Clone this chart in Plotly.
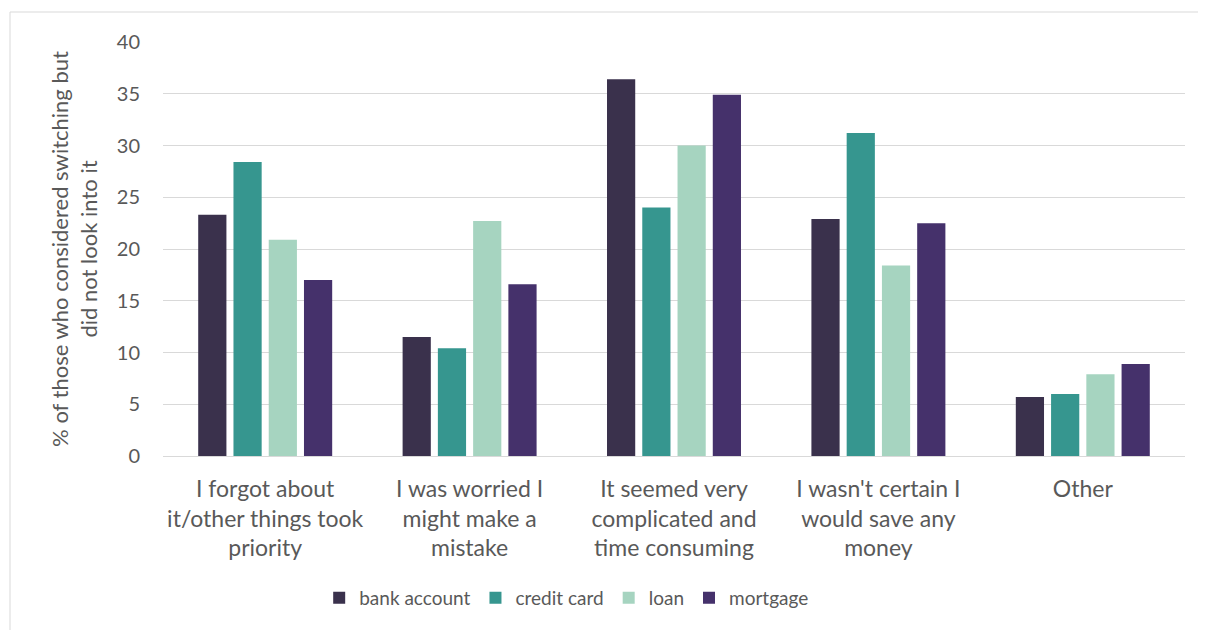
import plotly.graph_objects as go

categories = [
    "I forgot about<br>it/other things took<br>priority",
    "I was worried I<br>might make a<br>mistake",
    "It seemed very<br>complicated and<br>time consuming",
    "I wasn't certain I<br>would save any<br>money",
    "Other",
]
bank_account = [23.3, 11.5, 36.4, 22.9, 5.7]
credit_card = [28.4, 10.4, 24.0, 31.2, 6.0]
loan = [20.9, 22.7, 30.0, 18.4, 7.9]
mortgage = [17.0, 16.6, 34.9, 22.5, 8.9]

series = [
    ("bank account", bank_account, "#3A314C"),
    ("credit card", credit_card, "#36968F"),
    ("loan", loan, "#A6D4C0"),
    ("mortgage", mortgage, "#45316B"),
]

fig = go.Figure()
for name, vals, color in series:
    fig.add_trace(go.Bar(x=categories, y=vals, name=name, marker_color=color,
                         marker_line_width=0))

# the page puts the figure 8px in from the top-left corner
W, H = 1206, 630
ml, mr, mt, mb = 155, 29, 34, 182
pw, ph = W - ml - mr, H - mt - mb

def px_x(p):
    return (p - ml) / pw

def px_y(p):
    return (H - mb - p) / ph

fig.update_layout(
    width=W, height=H,
    margin=dict(l=ml, r=mr, t=mt, b=mb),
    paper_bgcolor="white", plot_bgcolor="white",
    font=dict(family="Lato, Open Sans, sans-serif", color="#595959", size=18),
    barmode="group", bargap=0.31, bargroupgap=0.2,
    showlegend=True,
    legend=dict(orientation="h", x=0.395, xanchor="center", y=px_y(590), yanchor="middle",
                font=dict(size=19), itemwidth=30, traceorder="normal"),
    yaxis=dict(range=[0, 40], dtick=5, showgrid=True, gridcolor="#D9D9D9", gridwidth=1,
               zeroline=False, ticks="", ticklabelstandoff=22, tickfont=dict(size=20),
               title=dict(text="% of those who considered switching but<br>did not look into it",
                          font=dict(size=22), standoff=13)),
    xaxis=dict(showline=True, linecolor="#D9D9D9", linewidth=1, ticks="",
               tickfont=dict(size=23), ticklabelstandoff=12),
    shapes=[dict(type="rect", xref="paper", yref="paper",
                 x0=px_x(2), x1=px_x(1205), y0=px_y(640), y1=px_y(4),
                 line=dict(color="#D9D9D9", width=1), fillcolor="rgba(0,0,0,0)", layer="below")],
)

fig.write_html("out.html")
